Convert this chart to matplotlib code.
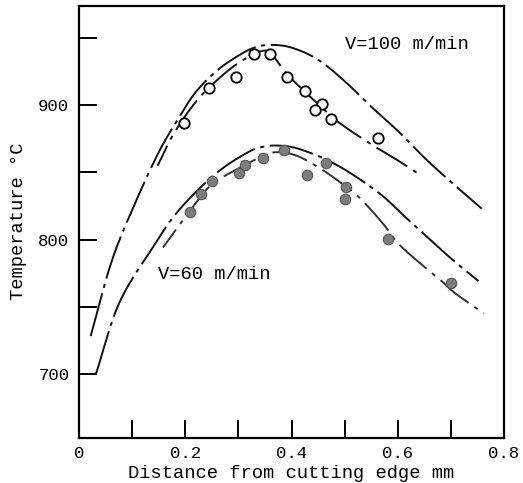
import numpy as np
import matplotlib
matplotlib.use('Agg')
import matplotlib.pyplot as plt

plt.rcParams['font.family'] = ['Liberation Mono', 'DejaVu Sans Mono']
plt.rcParams['lines.scale_dashes'] = False

# --- measured points, V=100 m/min (open circles)
x_v100 = [0.198, 0.244, 0.296, 0.329, 0.359, 0.392, 0.425, 0.457, 0.444, 0.475, 0.562]
t_v100 = [886.6, 913.0, 921.4, 938.6, 938.6, 921.3, 910.7, 901.2, 896.3, 890.0, 875.9]

# --- measured points, V=60 m/min (filled circles)
x_v60 = [0.208, 0.230, 0.251, 0.302, 0.313, 0.347, 0.385, 0.430, 0.464, 0.502, 0.501, 0.582, 0.701]
t_v60 = [820.7, 833.8, 843.8, 849.7, 855.4, 860.4, 866.4, 847.8, 857.2, 839.3, 829.9, 800.5, 767.7]

# --- curves, V=100 (outer and inner)
x_c100_out = [0.022, 0.06, 0.10, 0.15, 0.19, 0.22, 0.26, 0.30, 0.33, 0.36,
              0.40, 0.45, 0.50, 0.55, 0.60, 0.65, 0.70, 0.758]
t_c100_out = [728, 782, 822, 865, 892, 910, 926, 937, 943, 945,
              943, 934, 918, 899, 881, 861, 843, 823]
x_c100_in = [0.148, 0.18, 0.225, 0.275, 0.31, 0.34, 0.36, 0.39, 0.42,
             0.45, 0.49, 0.55, 0.60, 0.639]
t_c100_in = [855, 880, 905, 924, 934, 940, 939, 924, 912, 901, 887, 871, 859, 849]

# --- curves, V=60 (outer and inner)
x_c60_out = [0.032, 0.076, 0.142, 0.18, 0.224, 0.27, 0.318, 0.345, 0.375,
             0.41, 0.463, 0.513, 0.57, 0.608, 0.658, 0.70, 0.752]
t_c60_out = [700, 753, 796, 818, 837, 853, 865, 869, 870,
             868, 860, 849, 833, 819, 801, 786, 769]
x_c60_in = [0.158, 0.208, 0.25, 0.31, 0.34, 0.368, 0.406, 0.45,
            0.494, 0.523, 0.55, 0.576, 0.601, 0.64, 0.68, 0.708, 0.762]
t_c60_in = [794, 821, 841, 855, 861, 865, 863, 854,
            842, 833, 822, 810, 797, 783, 770, 760, 745]


def smooth(x, y, n=20):
    """ catmull-rom through the read-off points (in pixel-ish scaled space) """
    p = np.column_stack([np.asarray(x) * 1000, y]).astype(float)
    p = np.vstack([2*p[0] - p[1], p, 2*p[-1] - p[-2]])
    out = []
    for i in range(1, len(p) - 2):
        p0, p1, p2, p3 = p[i-1], p[i], p[i+1], p[i+2]
        t = np.linspace(0, 1, n, endpoint=False)[:, None]
        seg = 0.5 * ((2*p1) + (-p0 + p2)*t + (2*p0 - 5*p1 + 4*p2 - p3)*t**2
                     + (-p0 + 3*p1 - 3*p2 + p3)*t**3)
        out.append(seg)
    out.append(p[-2][None, :])
    out = np.vstack(out)
    return out[:, 0] / 1000, out[:, 1]


fig = plt.figure(figsize=(5.23, 4.83), dpi=100)
ax = fig.add_axes((79/523, 1 - 437.5/483, 425/523, 431.5/483))

lw = 1.4
dash_out = (0, (32, 4, 3, 4))
dash_in = (10, (26, 5, 3, 5))

ax.plot(*smooth(x_c100_out, t_c100_out), c='#111111', lw=lw, ls=dash_out)
ax.plot(*smooth(x_c100_in, t_c100_in), c='#111111', lw=lw, ls=dash_in)
ax.plot(*smooth(x_c60_out, t_c60_out), c='#111111', lw=lw, ls=dash_out)
ax.plot(*smooth(x_c60_in, t_c60_in), c='#333333', lw=lw, ls=dash_in)

ax.plot(x_v100, t_v100, 'o', ms=7.5, mfc='white', mec='k', mew=1.3, zorder=5)
ax.plot(x_v60, t_v60, 'o', ms=7.5, mfc='#7d7d7d', mec='#555555', mew=0.8, zorder=5)

ax.text(0.50, 945, 'V=100 m/min', fontsize=13.5, va='center', ha='left')
ax.text(0.149, 774, 'V=60 m/min', fontsize=13.5, va='center', ha='left')

ax.set_xlim(0, 0.8)
ax.set_ylim(652.5, 974)

# keep minor ticks that sit on labelled positions
ax.xaxis.remove_overlapping_locs = False
ax.yaxis.remove_overlapping_locs = False

ax.set_xticks([0, 0.2, 0.4, 0.6, 0.8])
ax.set_xticklabels(['0', '0.2', '0.4', '0.6', '0.8'])
ax.set_xticks([0.1, 0.2, 0.3, 0.4, 0.5, 0.6, 0.7], minor=True)
ax.tick_params(axis='x', which='major', length=0, pad=6, labelsize=12.5)
ax.tick_params(axis='x', which='minor', direction='in', length=13, width=1.4)

ax.set_yticks([700, 800, 900])
ax.set_yticks([700, 750, 800, 850, 900, 950], minor=True)
ax.tick_params(axis='y', which='major', length=0, pad=7, labelsize=12.5)
ax.tick_params(axis='y', which='minor', direction='in', length=13, width=1.4)

for axis in ['top', 'bottom', 'left', 'right']:
    ax.spines[axis].set_linewidth(1.6)

ax.set_xlabel('Distance from cutting edge mm', fontsize=13.5, labelpad=3)
ax.set_ylabel('Temperature °C', fontsize=13.5, labelpad=8)

fig.savefig('out.png', dpi=100)
